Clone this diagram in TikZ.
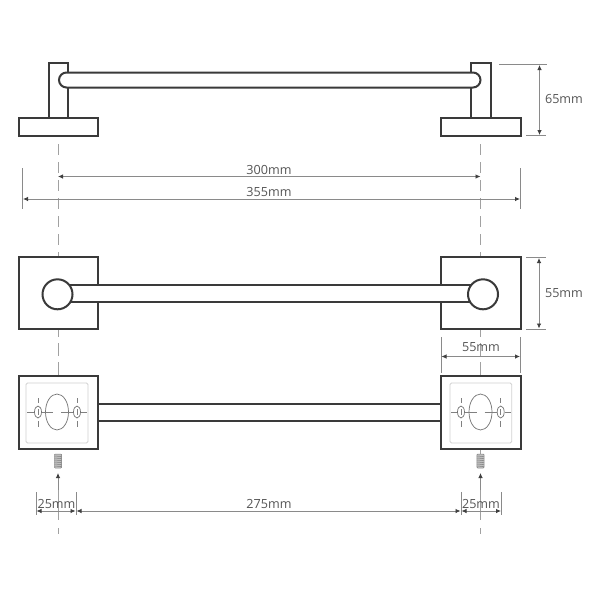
\documentclass[tikz,border=0pt]{standalone}
\usepackage{fontspec}
\setmainfont{Open Sans}
\usetikzlibrary{arrows.meta}
\definecolor{ink}{HTML}{3A3A3A}
\definecolor{dimc}{HTML}{8A8A8A}
\definecolor{txt}{HTML}{555555}
\tikzset{
 part/.style={draw=ink,line width=2pt,fill=white,line join=miter},
 bar/.style={draw=ink,line width=2pt},
 centre/.style={draw=dimc!80,line width=1pt},
 ext/.style={draw=dimc,line width=.8pt},
 dimline/.style={draw=dimc,line width=.8pt,{Latex[length=5pt,width=4.5pt,black!75]}-{Latex[length=5pt,width=4.5pt,black!75]}},
 lab/.style={text=txt,font=\fontsize{12.6}{14}\selectfont,inner sep=0pt},
 plate/.style={draw=black!18,line width=.9pt,rounded corners=1.5pt},
 fine/.style={draw=black!55,line width=.7pt},
 finec/.style={draw=black!50,line width=.7pt},
}
\begin{document}
\begin{tikzpicture}[x=1pt,y=-1pt]
\useasboundingbox (0,0) rectangle (600,600);
\fill[white] (0,0) rectangle (600,600);
% centre lines
\foreach \cx in {58,480.5}{
  \foreach \ya/\yb in {144/155,162/173,180/191,198/209,216/227,234/245,252/257,329/337,343/356,362/373,373/376,490/520,528/534}{
    \draw[centre] (\cx,\ya) -- (\cx,\yb);
  }
}
\draw[centre] (480.5,448.5) -- (480.5,454);

% --- top view
\draw[part] (48.5,62.5) rectangle (67.5,118);
\draw[part] (471,62.5) rectangle (490.5,118);
\draw[part] (18.5,118) rectangle (98,136);
\draw[part] (441,118) rectangle (520.5,136);
\filldraw[bar,fill=white] (66.5,72.5) -- (473,72.5) arc[start angle=-90,end angle=90,radius=7.5] -- (66.5,87.5) arc[start angle=90,end angle=270,radius=7.5] -- cycle;
% dims top
\draw[ext] (499,64) -- (547,64);
\draw[ext] (526,135.5) -- (546,135.5);
\draw[dimline] (539.5,65) -- (539.5,135);
\node[lab] (h65) at (564,99) {65mm};
\draw[ext] (22.5,168) -- (22.5,209);
\draw[ext] (520.5,168) -- (520.5,209);
\draw[dimline] (58,176.5) -- (480.5,176.5);
\draw[dimline] (23,199) -- (520,199);
\node[lab] (w300) at (269,170) {300mm};
\node[lab] (w355) at (269,192) {355mm};

% --- middle view
\draw[part] (18.5,257) rectangle (98,329);
\draw[part] (441,257) rectangle (520.5,329);
\fill[white] (70,285) rectangle (472,301.5);
\draw[bar] (70,285) -- (472,285) (70,301.5) -- (472,301.5);
\draw[part] (57.5,294.3) circle[radius=15];
\draw[part] (483,294.3) circle[radius=15];
\draw[ext] (526,257) -- (546,257);
\draw[ext] (526,329) -- (546,329);
\draw[dimline] (539,258) -- (539,328.5);
\node[lab] (h55) at (564,293) {55mm};
\draw[ext] (441,337) -- (441,373);
\draw[ext] (520.5,337) -- (520.5,373);
\draw[dimline] (441.5,356.5) -- (520,356.5);
\node[lab] (w55) at (481,347) {55mm};

% --- bottom view
\draw[part] (18.5,376) rectangle (98,448.5);
\draw[part] (441,376) rectangle (520.5,448.5);
\draw[bar] (98,404) -- (441,404) (98,420.5) -- (441,420.5);
\foreach \cx/\pl/\pr/\sl/\sr in {57/26/88/38/77,480.5/450/511.7/461/500.7}{
  \draw[plate] (\pl,383) rectangle (\pr,443);
  \draw[fine] (\cx,412) ellipse[x radius=11.5,y radius=18];
  \draw[fine] (\sl,412) ellipse[x radius=3.5,y radius=6];
  \draw[fine] (\sr,412) ellipse[x radius=3.5,y radius=6];
  \draw[finec] (\sl,412-3) -- (\sl,412+3) (\sr,412-3) -- (\sr,412+3);
  \draw[finec] (\pl+1,412) -- (\sl-4,412) (\sl+4,412) -- (\cx-4,412) (\cx+4,412) -- (\sr-4,412) (\sr+4,412) -- (\pr-1,412);
  \draw[finec] (\sl,398) -- (\sl,403) (\sl,421) -- (\sl,427) (\sr,398) -- (\sr,403) (\sr,421) -- (\sr,427);
}
% screws
\foreach \cx in {58,480.5}{
  \fill[black!25] (\cx-3.5,454) rectangle (\cx+3.5,468);
  \draw[black!50,line width=.5pt,rounded corners=1pt] (\cx-3.7,454) rectangle (\cx+3.7,468);
  \foreach \yy in {456,458,...,466}{\draw[black!50,line width=.5pt] (\cx-3.5,\yy) -- (\cx+3.5,\yy+.6);}
  \draw[ext,-{Latex[length=5pt,width=4.5pt,black!75]}] (\cx,490) -- (\cx,473);
}
% bottom dims
\draw[ext] (36,492) -- (36,515);
\draw[ext] (76,492) -- (76,515);
\draw[ext] (461,492) -- (461,515);
\draw[ext] (501.5,492) -- (501.5,515);
\draw[dimline] (36.5,511) -- (75.5,511);
\draw[dimline] (76.5,511) -- (460.5,511);
\draw[dimline] (461.5,511) -- (501,511);
\node[lab] (b25l) at (56.5,504) {25mm};
\node[lab] (b275) at (269,504) {275mm};
\node[lab] (b25r) at (481,504) {25mm};
\end{tikzpicture}
\end{document}
